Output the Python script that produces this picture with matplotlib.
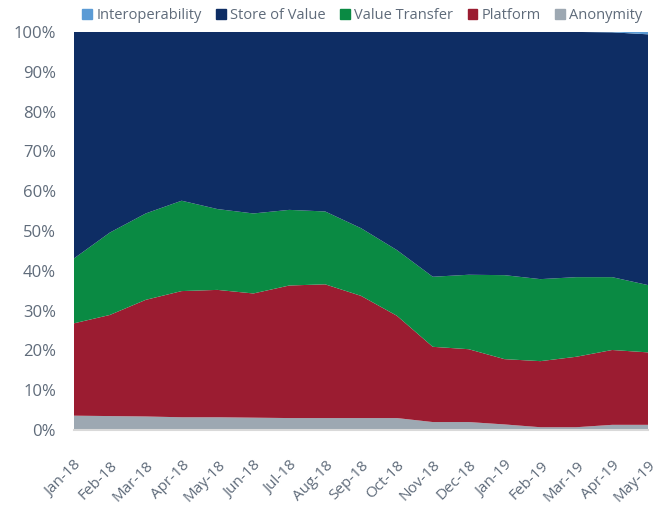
import matplotlib.pyplot as plt
from matplotlib.patches import Patch

# data (percent of total)
months = ["Jan-18", "Feb-18", "Mar-18", "Apr-18", "May-18", "Jun-18", "Jul-18", "Aug-18",
          "Sep-18", "Oct-18", "Nov-18", "Dec-18", "Jan-19", "Feb-19", "Mar-19", "Apr-19", "May-19"]
anonymity = [3.6, 3.5, 3.4, 3.2, 3.2, 3.1, 3.0, 3.0, 3.0, 3.0, 2.0, 2.0, 1.4, 0.7, 0.7, 1.3, 1.3]
platform_cum = [26.8, 28.9, 32.7, 34.9, 35.2, 34.3, 36.3, 36.6, 33.7, 28.7, 20.9, 20.3, 17.8, 17.3, 18.4, 20.1, 19.5]
transfer_cum = [43.1, 49.6, 54.4, 57.6, 55.5, 54.4, 55.3, 54.9, 50.7, 45.2, 38.5, 39.0, 38.9, 37.9, 38.4, 38.4, 36.4]
interop = [0, 0, 0, 0, 0, 0, 0, 0, 0, 0, 0, 0, 0, 0, 0, 0.1, 0.6]

platform = [p - a for p, a in zip(platform_cum, anonymity)]
transfer = [t - p for t, p in zip(transfer_cum, platform_cum)]
store = [100 - t - i for t, i in zip(transfer_cum, interop)]

names = ["Interoperability", "Store of Value", "Value Transfer", "Platform", "Anonymity"]
colors = {"Interoperability": "#5B9BD5", "Store of Value": "#0E2D64", "Value Transfer": "#0A8A43",
          "Platform": "#9B1C31", "Anonymity": "#9DA8B2"}

plt.rcParams['font.family'] = ['Open Sans', 'DejaVu Sans']
txt = "#5F6B7A"

fig = plt.figure(figsize=(6.64, 5.11), dpi=100)
ax = fig.add_axes([0.1114, 0.1585, 0.8646, 0.779])

x = list(range(len(months)))
ax.stackplot(x, anonymity, platform, transfer, store, interop,
             colors=[colors["Anonymity"], colors["Platform"], colors["Value Transfer"],
                     colors["Store of Value"], colors["Interoperability"]],
             linewidth=0)

ax.set_xlim(0, len(months) - 1)
ax.set_ylim(0, 100)
ax.set_yticks(range(0, 101, 10))
ax.set_yticklabels([f"{v}%" for v in range(0, 101, 10)], fontsize=12, color=txt)
ax.set_xticks(x)
ax.set_xticklabels(months, rotation=45, ha="right", rotation_mode="anchor", fontsize=11, color=txt)
ax.tick_params(axis="x", length=0, pad=20)
ax.tick_params(axis="y", length=0, pad=13)
for s in ["top", "right", "left"]:
    ax.spines[s].set_visible(False)
ax.spines["bottom"].set_color("#D9D9D9")
ax.spines["bottom"].set_linewidth(1.5)

handles = [Patch(color=colors[n]) for n in names]
fig.legend(handles, names, loc="center", bbox_to_anchor=(0.546, 0.969), ncol=5, frameon=False,
           fontsize=10.5, labelcolor=txt, handlelength=0.65, handleheight=0.65, handletextpad=0.3,
           columnspacing=1.0, borderpad=0)

fig.savefig("out.png", dpi=100)
